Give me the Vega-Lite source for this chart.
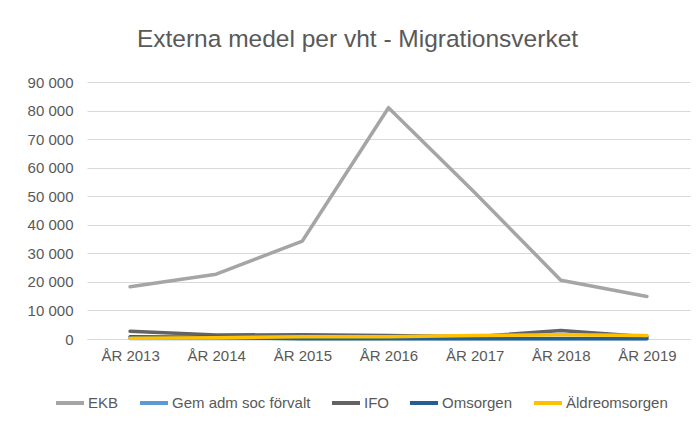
{
  "$schema": "https://vega.github.io/schema/vega-lite/v6.json",
  "width": 603,
  "height": 257,
  "autosize": {"type": "none"},
  "padding": {"left": 87, "top": 82, "right": 8, "bottom": 84},
  "background": "white",
  "title": {
    "text": "Externa medel per vht - Migrationsverket",
    "font": "Liberation Sans",
    "fontSize": 24.5,
    "fontWeight": "normal",
    "color": "#595959",
    "anchor": "middle",
    "dx": -31,
    "offset": 23
  },
  "data": {
    "values": [
      {"year": "ÅR 2013", "serie": "EKB", "o": 1, "value": 18300},
      {"year": "ÅR 2014", "serie": "EKB", "o": 1, "value": 22700},
      {"year": "ÅR 2015", "serie": "EKB", "o": 1, "value": 34300},
      {"year": "ÅR 2016", "serie": "EKB", "o": 1, "value": 81000},
      {"year": "ÅR 2017", "serie": "EKB", "o": 1, "value": 51300},
      {"year": "ÅR 2018", "serie": "EKB", "o": 1, "value": 20600},
      {"year": "ÅR 2019", "serie": "EKB", "o": 1, "value": 14900},
      {"year": "ÅR 2013", "serie": "Gem adm soc förvalt", "o": 2, "value": 200},
      {"year": "ÅR 2014", "serie": "Gem adm soc förvalt", "o": 2, "value": 200},
      {"year": "ÅR 2015", "serie": "Gem adm soc förvalt", "o": 2, "value": 150},
      {"year": "ÅR 2016", "serie": "Gem adm soc förvalt", "o": 2, "value": 150},
      {"year": "ÅR 2017", "serie": "Gem adm soc förvalt", "o": 2, "value": 150},
      {"year": "ÅR 2018", "serie": "Gem adm soc förvalt", "o": 2, "value": 150},
      {"year": "ÅR 2019", "serie": "Gem adm soc förvalt", "o": 2, "value": 150},
      {"year": "ÅR 2013", "serie": "IFO", "o": 3, "value": 2700},
      {"year": "ÅR 2014", "serie": "IFO", "o": 3, "value": 1400},
      {"year": "ÅR 2015", "serie": "IFO", "o": 3, "value": 1500},
      {"year": "ÅR 2016", "serie": "IFO", "o": 3, "value": 1200},
      {"year": "ÅR 2017", "serie": "IFO", "o": 3, "value": 800},
      {"year": "ÅR 2018", "serie": "IFO", "o": 3, "value": 3000},
      {"year": "ÅR 2019", "serie": "IFO", "o": 3, "value": 800},
      {"year": "ÅR 2013", "serie": "Omsorgen", "o": 4, "value": 800},
      {"year": "ÅR 2014", "serie": "Omsorgen", "o": 4, "value": 600},
      {"year": "ÅR 2015", "serie": "Omsorgen", "o": 4, "value": 100},
      {"year": "ÅR 2016", "serie": "Omsorgen", "o": 4, "value": 100},
      {"year": "ÅR 2017", "serie": "Omsorgen", "o": 4, "value": 100},
      {"year": "ÅR 2018", "serie": "Omsorgen", "o": 4, "value": 100},
      {"year": "ÅR 2019", "serie": "Omsorgen", "o": 4, "value": 100},
      {"year": "ÅR 2013", "serie": "Äldreomsorgen", "o": 5, "value": 300},
      {"year": "ÅR 2014", "serie": "Äldreomsorgen", "o": 5, "value": 400},
      {"year": "ÅR 2015", "serie": "Äldreomsorgen", "o": 5, "value": 800},
      {"year": "ÅR 2016", "serie": "Äldreomsorgen", "o": 5, "value": 800},
      {"year": "ÅR 2017", "serie": "Äldreomsorgen", "o": 5, "value": 1200},
      {"year": "ÅR 2018", "serie": "Äldreomsorgen", "o": 5, "value": 1500},
      {"year": "ÅR 2019", "serie": "Äldreomsorgen", "o": 5, "value": 1200}
    ]
  },
  "mark": {"type": "line", "strokeWidth": 3.5, "strokeCap": "round", "strokeJoin": "round"},
  "encoding": {
    "x": {
      "field": "year",
      "type": "ordinal",
      "scale": {"type": "point", "padding": 0.5},
      "axis": {
        "title": null,
        "labelAngle": 0,
        "labelFont": "Liberation Sans",
        "labelFontSize": 15,
        "labelColor": "#595959",
        "labelPadding": 9,
        "ticks": false,
        "domainColor": "#D9D9D9",
        "domainWidth": 1,
        "grid": false
      }
    },
    "y": {
      "field": "value",
      "type": "quantitative",
      "scale": {"domain": [0, 90000], "nice": false},
      "axis": {
        "title": null,
        "values": [0, 10000, 20000, 30000, 40000, 50000, 60000, 70000, 80000, 90000],
        "labelExpr": "replace(format(datum.value, ','), ',', ' ')",
        "labelFont": "Liberation Sans",
        "labelFontSize": 15,
        "labelColor": "#595959",
        "labelPadding": 14,
        "ticks": false,
        "domain": false,
        "gridColor": "#D9D9D9",
        "gridWidth": 1
      }
    },
    "color": {
      "field": "serie",
      "type": "nominal",
      "sort": ["EKB", "Gem adm soc förvalt", "IFO", "Omsorgen", "Äldreomsorgen"],
      "scale": {
        "domain": ["EKB", "Gem adm soc förvalt", "IFO", "Omsorgen", "Äldreomsorgen"],
        "range": ["#A5A5A5", "#5B9BD5", "#636363", "#255E91", "#FFC000"]
      },
      "legend": {
        "title": null,
        "orient": "none",
        "legendX": -33,
        "legendY": 305,
        "direction": "horizontal",
        "symbolType": "stroke",
        "symbolStrokeWidth": 4,
        "symbolSize": 784,
        "labelFont": "Liberation Sans",
        "labelFontSize": 15,
        "labelColor": "#595959",
        "labelOffset": 2,
        "columnPadding": 13
      }
    },
    "order": {"field": "o"}
  },
  "config": {"view": {"stroke": null}}
}
